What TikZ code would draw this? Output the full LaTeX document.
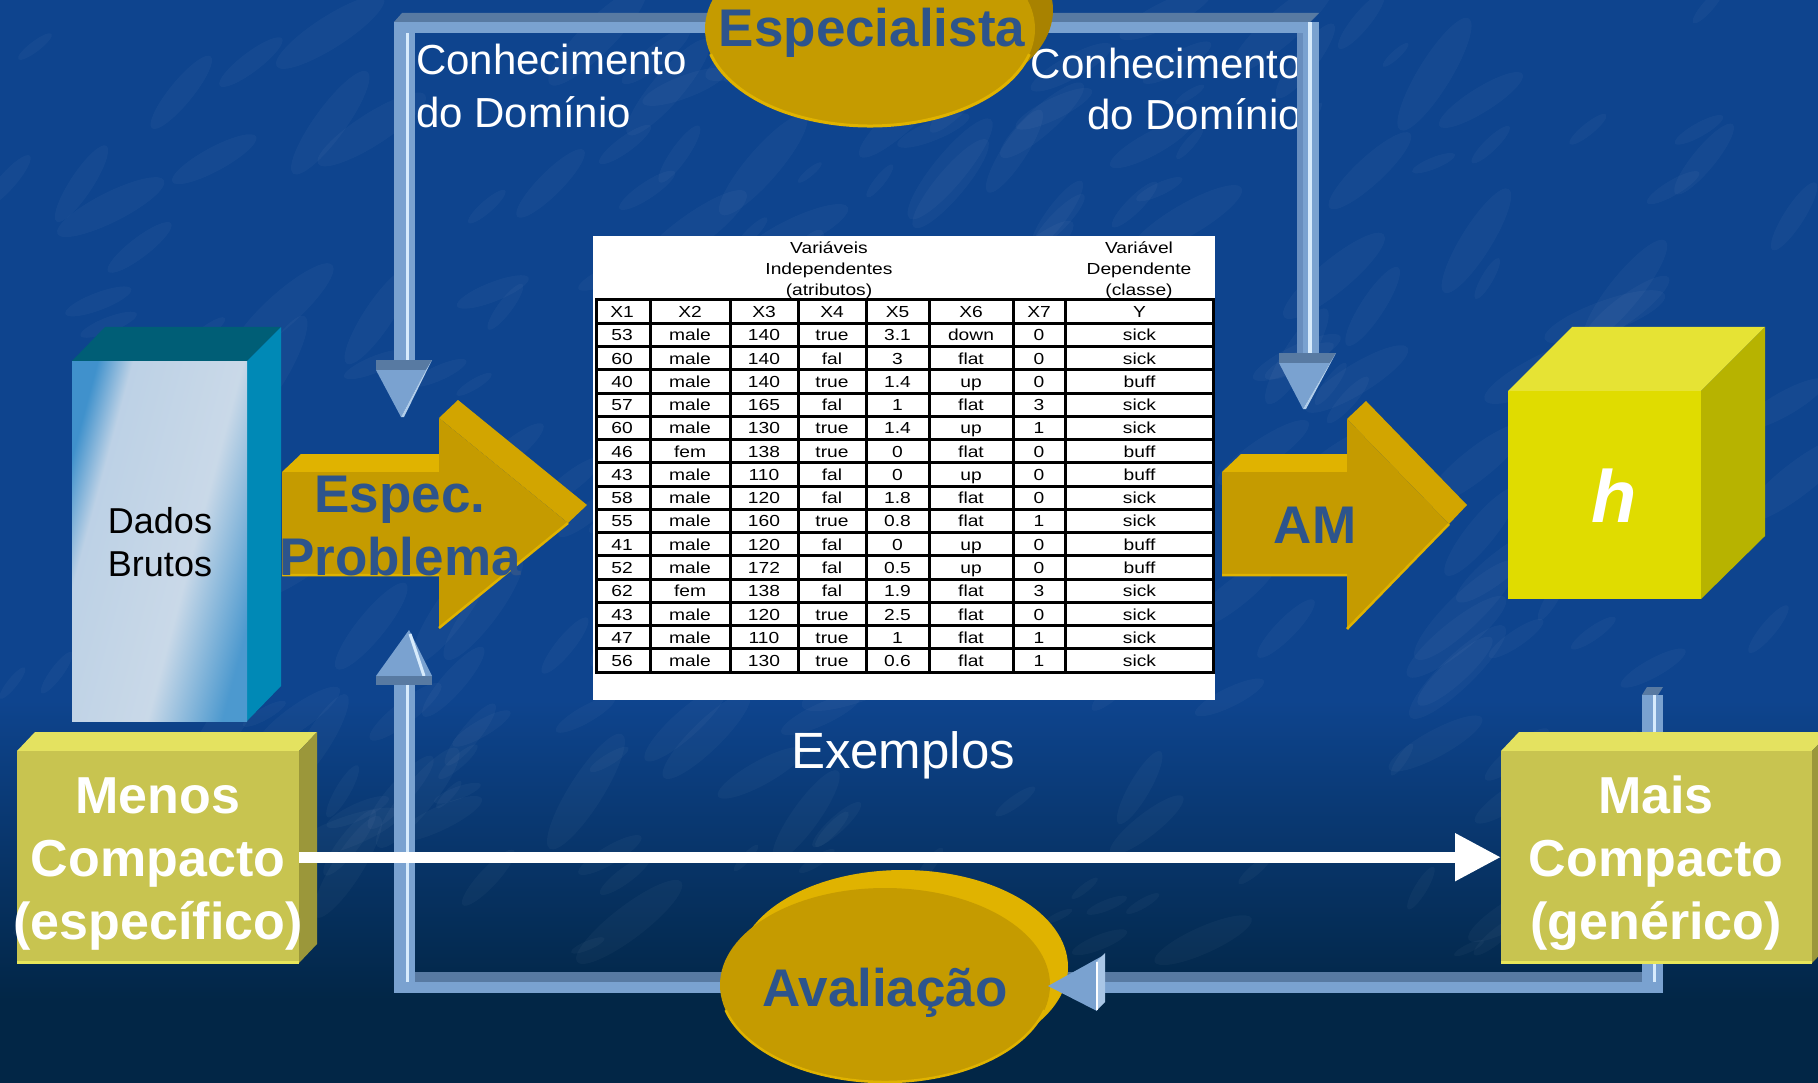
\documentclass[tikz,border=0pt]{standalone}
\usepackage{fontspec}
\usepackage{graphicx}
\setmainfont{Liberation Sans}
\usetikzlibrary{arrows.meta,shapes.geometric,calc}

\definecolor{bgtop}{RGB}{14,68,142}
\definecolor{bgbot}{RGB}{2,38,70}
\definecolor{gold}{RGB}{197,155,0}
\definecolor{goldlt}{RGB}{224,179,0}
\definecolor{goldmd}{RGB}{210,165,0}
\definecolor{golddk}{RGB}{168,130,0}
\definecolor{goldtxt}{RGB}{45,84,140}
\definecolor{barfr}{RGB}{122,162,208}
\definecolor{barin}{RGB}{104,142,190}
\definecolor{bartp}{RGB}{88,122,162}
\definecolor{barhi}{RGB}{215,235,252}
\definecolor{olfr}{RGB}{200,196,80}
\definecolor{oltp}{RGB}{228,226,96}
\definecolor{olsd}{RGB}{155,151,58}
\definecolor{olhi}{RGB}{232,230,90}
\definecolor{cbfr}{RGB}{224,220,0}
\definecolor{cbtp}{RGB}{230,227,52}
\definecolor{cbsd}{RGB}{183,179,0}
\definecolor{dbtp}{RGB}{0,94,118}
\definecolor{dbsd}{RGB}{0,137,182}

\pgfdeclarehorizontalshading{dbfront}{100bp}{rgb(0bp)=(0.25,0.57,0.80); rgb(25bp)=(0.25,0.57,0.80); rgb(33bp)=(0.74,0.82,0.90); rgb(58bp)=(0.79,0.85,0.91); rgb(75bp)=(0.30,0.60,0.81); rgb(100bp)=(0.30,0.60,0.81)}

\newcommand{\tcell}[1]{\scalebox{1.2}[1]{#1}}

\begin{document}
\begin{tikzpicture}[x=1pt,y=-1pt,
  lbl/.style={inner sep=0pt,anchor=base},
  goldlbl/.style={lbl,text=goldtxt,font=\fontsize{53}{60}\selectfont\bfseries},
  whitebig/.style={lbl,text=white,font=\fontsize{52}{60}\selectfont\bfseries},
  knowl/.style={inner sep=0pt,text=white,font=\fontsize{42}{50}\selectfont},
  cell/.style={inner sep=0pt,anchor=base,font=\fontsize{16}{18}\selectfont},
  facebox/.style={inner sep=0pt,anchor=north west,draw=none},
]
\useasboundingbox (0,0) rectangle (1818,1083);
\clip (0,0) rectangle (1818,1083);

% background
\fill[bgtop] (0,0) rectangle (1818,702);
\shade[top color=bgtop,bottom color=bgbot] (0,700) rectangle (1818,1002);
\fill[bgbot] (0,1000) rectangle (1818,1083);
% subtle texture
\pgfmathsetseed{7}
\foreach \k in {1,...,260}{
  \pgfmathsetmacro\px{rnd*1818}
  \pgfmathsetmacro\py{rnd*950}
  \pgfmathsetmacro\pr{15+rnd*55}
  \pgfmathsetmacro\qr{\pr/4}
  \pgfmathsetmacro\ang{20+rnd*40}
  \fill[white,opacity=0.03,rotate around={\ang:(\px,\py)}] (\px,\py) ellipse [x radius=\pr, y radius=\qr];
}

% domain knowledge texts
\node[knowl,anchor=base west] (k1) at (416,75) {Conhecimento};
\node[knowl,anchor=base west] (k2) at (416,128) {do Domínio};
\node[knowl,anchor=base east] (k3) at (1302,79) {Conhecimento};
\node[knowl,anchor=base east] (k4) at (1302,130) {do Domínio};

% ---------- top frame ----------
\coordinate (ftl) at (394,22);
\coordinate (ftr) at (1319,22);
\fill[bartp] (ftl) -- (402,13) -- (1319,13) -- (1310,22) -- cycle;
\fill[barfr] (ftl) rectangle (1310,33);
% left vertical
\fill[barfr] (ftl) rectangle (415,361);
\fill[barhi] (406,33) rectangle (409,361);
% right vertical
\fill[barfr] (1297,22) rectangle (1319,354);
\fill[barin] (1297,33) rectangle (1303,354);
\fill[barhi] (1308,22) rectangle (1312,354);
% left down arrowhead
\coordinate (tipL) at (401,417);
\fill[bartp] (376,360) -- (432,360) -- (426,370) -- (376,370) -- cycle;
\fill[barfr] (376,370) -- (426,370) -- (tipL) -- cycle;
\fill[barhi!60!barfr] (426,370) -- (432,360) -- (404,417) -- (tipL) -- cycle;
% right down arrowhead
\coordinate (tipR) at (1303,409);
\fill[bartp] (1279,353) -- (1336,353) -- (1330,363) -- (1279,363) -- cycle;
\fill[barfr] (1279,363) -- (1330,363) -- (tipR) -- cycle;
\fill[barhi!60!barfr] (1330,363) -- (1336,353) -- (1306,409) -- (tipR) -- cycle;

% ---------- Especialista ----------
\fill[golddk] (888,10) ellipse [x radius=165, y radius=97];
\node[ellipse,fill=gold,inner sep=0pt,minimum width=330pt,minimum height=194pt] (esp) at (870,29) {};
\draw[goldlt,line width=3pt] ($(870,29)+(15:165 and 97)$) arc[start angle=15,end angle=165,x radius=165,y radius=97];
\node[goldlbl] (espt) at (872,47) {Especialista};

% ---------- table ----------
\node[facebox,fill=white,minimum width=622pt,minimum height=464pt] (tab) at (593,236) {};
\foreach \yy in {323.26,346.52,369.78,393.04,416.3,439.56,462.82,486.08,509.34,532.6,555.86,579.12,602.38,625.64,648.9}
  \draw[line width=3pt] (596,\yy) -- (1213.5,\yy);
\foreach \xx in {650,730,798,866,929,1013,1065}
  \draw[line width=3pt] (\xx,300) -- (\xx,672.5);
\draw[line width=3pt] (596,300) rectangle (1213.5,672.5);
\node[cell] (hv1) at (829,254) {\tcell{Variáveis}};
\node[cell] (hv2) at (829,275) {\tcell{Independentes}};
\node[cell] (hv3) at (829,296) {\tcell{(atributos)}};
\node[cell] (hd1) at (1139,254) {\tcell{Variável}};
\node[cell] (hd2) at (1139,275) {\tcell{Dependente}};
\node[cell] (hd3) at (1139,296) {\tcell{(classe)}};
\foreach \a/\b/\c/\d/\e/\f/\g/\h [count=\i from 0] in {
  X1/X2/X3/X4/X5/X6/X7/Y,
  53/male/140/true/3.1/down/0/sick,
  60/male/140/fal/3/flat/0/sick,
  40/male/140/true/1.4/up/0/buff,
  57/male/165/fal/1/flat/3/sick,
  60/male/130/true/1.4/up/1/sick,
  46/fem/138/true/0/flat/0/buff,
  43/male/110/fal/0/up/0/buff,
  58/male/120/fal/1.8/flat/0/sick,
  55/male/160/true/0.8/flat/1/sick,
  41/male/120/fal/0/up/0/buff,
  52/male/172/fal/0.5/up/0/buff,
  62/fem/138/fal/1.9/flat/3/sick,
  43/male/120/true/2.5/flat/0/sick,
  47/male/110/true/1/flat/1/sick,
  56/male/130/true/0.6/flat/1/sick}{
  \pgfmathsetmacro\yb{300+23.26*(\i+0.5)+6}
  \node[cell] (r\i c1) at (622,\yb) {\tcell{\a}};
  \node[cell] (r\i c2) at (690,\yb) {\tcell{\b}};
  \node[cell] (r\i c3) at (764,\yb) {\tcell{\c}};
  \node[cell] (r\i c4) at (832,\yb) {\tcell{\d}};
  \node[cell] (r\i c5) at (897.5,\yb) {\tcell{\e}};
  \node[cell] (r\i c6) at (971,\yb) {\tcell{\f}};
  \node[cell] (r\i c7) at (1039,\yb) {\tcell{\g}};
  \node[cell] (r\i c8) at (1139.5,\yb) {\tcell{\h}};
}

% ---------- Dados Brutos ----------
\fill[dbtp] (72,361) -- (105,327) -- (281,327) -- (247,361) -- cycle;
\fill[dbsd] (247,361) -- (281,327) -- (281,686) -- (247,721) -- cycle;
\node[facebox,shade,shading=dbfront,shading angle=-15,minimum width=175pt,minimum height=360pt] (dados) at (72,361) {};
\node[lbl,text=black,font=\fontsize{36}{40}\selectfont] (dt1) at (160,533) {Dados};
\node[lbl,text=black,font=\fontsize{36}{40}\selectfont] (dt2) at (160,576) {Brutos};

% ---------- Espec. Problema arrow ----------
\fill[goldlt] (282,472) -- (301,454) -- (440,454) -- (440,472) -- cycle;
\fill[goldmd] (439,418) -- (458,400) -- (587,505) -- (568,523) -- cycle;
\fill[gold] (282,472) -- (439,472) -- (439,418) -- (568,523) -- (439,628) -- (439,575) -- (282,575) -- cycle;
\draw[goldlt,line width=2.5pt] (282,575) -- (439,575) (439,628) -- (568,523);
\coordinate (especArrow) at (425,523);
\node[goldlbl] (et1) at (400,512) {Espec.};
\node[goldlbl] (et2) at (400,575) {Problema};

% ---------- AM arrow ----------
\fill[goldlt] (1222,472) -- (1241,454) -- (1348,454) -- (1348,472) -- cycle;
\fill[goldmd] (1347,419) -- (1366,401) -- (1467,505) -- (1449,524) -- cycle;
\fill[gold] (1222,472) -- (1347,472) -- (1347,419) -- (1449,524) -- (1347,629) -- (1347,575) -- (1222,575) -- cycle;
\draw[goldlt,line width=2.5pt] (1222,575) -- (1347,575) (1347,629) -- (1449,524);
\coordinate (amArrow) at (1335,523);
\node[goldlbl] (amt) at (1315,543) {AM};

% ---------- h cube ----------
\fill[cbtp] (1508,391) -- (1572,327) -- (1765,327) -- (1701,391) -- cycle;
\fill[cbsd] (1701,391) -- (1765,327) -- (1765,536) -- (1701,599) -- cycle;
\node[facebox,fill=cbfr,minimum width=193pt,minimum height=208pt] (cube) at (1508,391) {};
\node[lbl,text=white,font=\fontsize{74}{80}\selectfont\bfseries\itshape] (ht) at (1614,522) {h};

% ---------- bottom frame ----------
\coordinate (tipB) at (409,630);
\fill[barfr] (376,676) -- (432,676) -- (tipB) -- cycle;
\draw[barhi,line width=3pt] (410,634) -- (424,676);
\fill[bartp] (376,676) rectangle (432,685);
\fill[bartp] (394,972) rectangle (1652,982);
\fill[barfr] (394,982) rectangle (1663,993);
\fill[barfr] (394,685) rectangle (415,993);
\fill[barhi] (406,685) rectangle (409,982);
% right vertical
\fill[bartp] (1642,695) -- (1647,687) -- (1663,687) -- (1658,695) -- cycle;
\fill[barfr] (1642,695) rectangle (1663,993);
\fill[barhi] (1653,695) rectangle (1656,982);

% ---------- Menos / Mais boxes ----------
\fill[oltp] (17,751) -- (35,732) -- (317,732) -- (299,751) -- cycle;
\fill[olsd] (299,751) -- (317,732) -- (317,944) -- (299,963) -- cycle;
\node[facebox,fill=olfr,minimum width=282pt,minimum height=212pt] (menos) at (17,751) {};
\draw[olhi,line width=3pt] (17,962) -- (299,962);
\fill[oltp] (1501,751) -- (1519,732) -- (1830,732) -- (1812,751) -- cycle;
\fill[olsd] (1812,751) -- (1830,732) -- (1830,944) -- (1812,963) -- cycle;
\node[facebox,fill=olfr,minimum width=311pt,minimum height=212pt] (mais) at (1501,751) {};
\draw[olhi,line width=3pt] (1501,962) -- (1812,962);

\node[whitebig] (m1) at (158,813) {Menos};
\node[whitebig] (m2) at (158,876) {Compacto};
\node[whitebig] (m3) at (158,939) {(específico)};
\node[whitebig] (g1) at (1656,813) {Mais};
\node[whitebig] (g2) at (1656,876) {Compacto};
\node[whitebig] (g3) at (1656,939) {(genérico)};

% white arrow
\draw[white,line width=11pt,-{Triangle[length=46pt,width=45pt]}] (menos.east) -- (mais.west);

% ---------- Avaliação ----------
\fill[goldlt] (903,967) ellipse [x radius=165, y radius=97];
\node[ellipse,fill=gold,inner sep=0pt,minimum width=330pt,minimum height=194pt] (aval) at (885,985) {};
\draw[goldlt,line width=2.5pt] ($(885,985)+(15:165 and 97)$) arc[start angle=15,end angle=165,x radius=165,y radius=97];
% left-pointing arrowhead
\coordinate (tipA) at (1048,986);
\fill[barfr] (tipA) -- (1104,955) -- (1097,1011) -- cycle;
\fill[barhi!50!barfr] (1096,962) -- (1105,953) -- (1105,1002) -- (1096,1011) -- cycle;
\draw[white,line width=2pt] (1097,962) -- (1097,1010);
\node[goldlbl] (avt) at (885,1006) {Avaliação};

% Exemplos
\node[lbl,text=white,font=\fontsize{51}{56}\selectfont] (ex) at (903,768) {Exemplos};

\end{tikzpicture}
\end{document}
